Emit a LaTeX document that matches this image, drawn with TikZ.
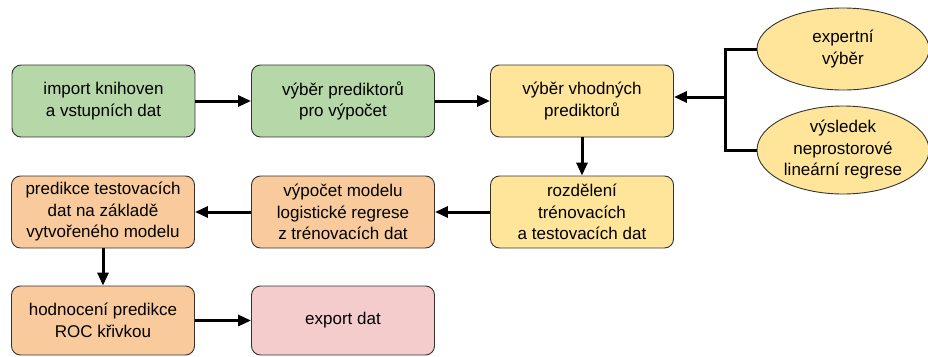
\documentclass[tikz,border=0pt]{standalone}
\usepackage{fontspec}
\setmainfont{Liberation Sans}
\usetikzlibrary{shapes.geometric, arrows.meta, positioning}

\definecolor{zelena}{HTML}{B6D7A8}
\definecolor{oranzova}{HTML}{F9CB9C}
\definecolor{zluta}{HTML}{FFE599}
\definecolor{ruzova}{HTML}{F4CCCC}
\definecolor{okraj}{HTML}{333333}

\begin{document}
\begin{tikzpicture}[
    x=1pt, y=-1pt,
    >={Triangle[length=13pt, width=11pt]},
    krok/.style={draw=okraj, line width=0.9pt, rectangle, rounded corners=9pt, minimum width=183pt, minimum height=72pt, align=center, inner sep=2pt, font=\fontsize{17}{21.5}\selectfont},
    zdroj/.style={draw=okraj, line width=0.9pt, ellipse, fill=zluta, minimum width=172pt, align=center, inner sep=0pt, font=\fontsize{17}{21.5}\selectfont},
    sipka/.style={->, line width=3pt}
]
\useasboundingbox (0,0) rectangle (928,356);

% Prvni radek
\node[krok, fill=zelena] (import) at (103.5,101) {import knihoven\\a vstupních dat};
\node[krok, fill=zelena] (predvyber) at (343,101) {výběr prediktorů\\pro výpočet};
\node[krok, fill=zluta] (vhodne) at (582,101) {výběr vhodných\\prediktorů};

% Zdroje vyberu
\node[zdroj, minimum height=82pt] (expert) at (843,49) {expertní\\výběr};
\node[zdroj, minimum height=88pt] (regrese) at (843,150) {výsledek\\neprostorové\\lineární regrese};

% Druhy radek
\node[krok, fill=oranzova] (predikce) at (103,212) {predikce testovacích\\dat na základě\\vytvořeného modelu};
\node[krok, fill=oranzova] (model) at (343,212) {výpočet modelu\\logistické regrese\\z trénovacích dat};
\node[krok, fill=zluta] (rozdeleni) at (582,212) {rozdělení\\trénovacích\\a testovacích dat};

% Treti radek
\node[krok, fill=oranzova, minimum height=69pt] (roc) at (103,320.5) {hodnocení predikce\\ROC křivkou};
\node[krok, fill=ruzova, minimum height=69pt] (export) at (343,320.5) {export dat};

% Spojnice
\coordinate (uzel) at (725,97);
\draw[line width=3pt] (expert.west) -| (uzel) |- (regrese.west);
\draw[sipka] (uzel) -- (vhodne.east |- uzel);
\draw[sipka] (import) -- (predvyber);
\draw[sipka] (predvyber) -- (vhodne);
\draw[sipka] (vhodne) -- (rozdeleni);
\draw[sipka] (rozdeleni) -- (model);
\draw[sipka] (model) -- (predikce);
\draw[sipka] (predikce) -- (roc);
\draw[sipka] (roc) -- (export);

\end{tikzpicture}
\end{document}
